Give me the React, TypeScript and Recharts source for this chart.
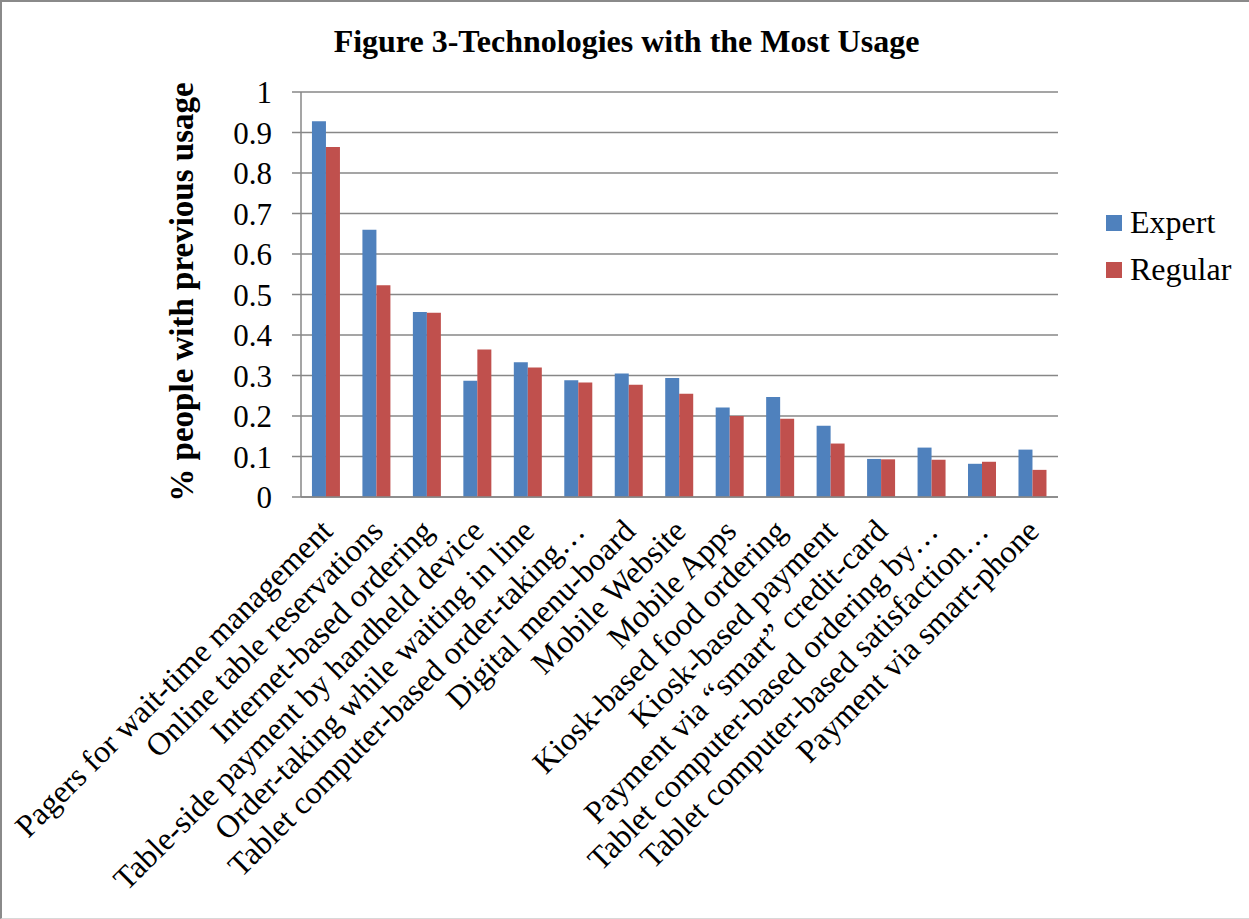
import React from 'react';
import { BarChart, Bar, XAxis, YAxis, CartesianGrid } from 'recharts';

const categories = [
  'Pagers for wait-time management',
  'Online table reservations',
  'Internet-based ordering',
  'Table-side payment by handheld device',
  'Order-taking while waiting in line',
  'Tablet computer-based order-taking…',
  'Digital menu-board',
  'Mobile Website',
  'Mobile Apps',
  'Kiosk-based food ordering',
  'Kiosk-based payment',
  'Payment via “smart” credit-card',
  'Tablet computer-based ordering by…',
  'Tablet computer-based satisfaction…',
  'Payment via smart-phone',
];

const expert = [0.928, 0.66, 0.457, 0.287, 0.333, 0.288, 0.305, 0.294, 0.221, 0.247, 0.176, 0.094, 0.122, 0.082, 0.117];
const regular = [0.864, 0.523, 0.455, 0.364, 0.32, 0.283, 0.277, 0.255, 0.2, 0.193, 0.132, 0.093, 0.092, 0.087, 0.067];

const yTicks = [0, 0.1, 0.2, 0.3, 0.4, 0.5, 0.6, 0.7, 0.8, 0.9, 1];

const data = categories.map((name, i) => ({ name, Expert: expert[i], Regular: regular[i] }));

const FONT = "'Liberation Serif', 'DejaVu Serif'";
const BLUE = '#4F81BD';
const RED = '#C0504D';
const GRID = '#878787';

const CategoryTick = (props: any) => {
  const { x, payload } = props;
  const px = x + 8;
  const py = 533;
  return (
    <text
      x={px}
      y={py}
      transform={`rotate(-45, ${px}, ${py})`}
      textAnchor="end"
      fontSize={32}
      fontFamily={FONT}
      fill="#000"
    >
      {payload.value}
    </text>
  );
};

const YTitle = () => (
  <text
    x={193}
    y={292}
    transform="rotate(-90, 193, 292)"
    textAnchor="middle"
    fontSize={33}
    fontWeight="bold"
    fontFamily={FONT}
    fill="#000"
  >
    % people with previous usage
  </text>
);

const legendItems = [
  { name: 'Expert', color: BLUE },
  { name: 'Regular', color: RED },
];

export default function App() {
  return (
    <div
      style={{
        position: 'absolute',
        left: 0,
        top: 0,
        width: 1249,
        height: 919,
        background: '#fff',
        boxSizing: 'border-box',
        borderTop: '2px solid #8a8a8a',
        borderLeft: '2px solid #8a8a8a',
        borderBottom: '1px solid #d8d8d8',
        fontFamily: FONT,
      }}
    >
      <div
        style={{
          position: 'absolute',
          left: 0,
          top: 21,
          width: 1249,
          textAlign: 'center',
          fontSize: 32,
          fontWeight: 'bold',
          color: '#000',
        }}
      >
        Figure 3-Technologies with the Most Usage
      </div>

      <div style={{ position: 'absolute', left: -2, top: -2 }}>
        <BarChart
          width={1249}
          height={919}
          data={data}
          margin={{ top: 92, right: 191, bottom: 0, left: 0 }}
          barCategoryGap="21.7%"
          barGap={0}
        >
          <CartesianGrid vertical={false} stroke={GRID} strokeWidth={1.5} />
          <XAxis
            dataKey="name"
            interval={0}
            height={422}
            axisLine={{ stroke: GRID, strokeWidth: 1.5 }}
            tickLine={false}
            tick={<CategoryTick />}
          />
          <YAxis
            width={301}
            domain={[0, 1]}
            ticks={yTicks}
            interval={0}
            axisLine={{ stroke: GRID, strokeWidth: 1.5 }}
            tickLine={{ stroke: GRID, strokeWidth: 1.5 }}
            tickSize={9}
            tickMargin={20}
            tick={{ fontSize: 31, fill: '#000', fontFamily: FONT }}
            label={<YTitle />}
          />
          <Bar dataKey="Expert" fill={BLUE} isAnimationActive={false} />
          <Bar dataKey="Regular" fill={RED} isAnimationActive={false} />
        </BarChart>
      </div>

      <div style={{ position: 'absolute', left: 1104, top: 197 }}>
        {legendItems.map((item) => (
          <div key={item.name} style={{ display: 'flex', alignItems: 'center', height: 47 }}>
            <span style={{ width: 16, height: 16, background: item.color, marginRight: 8 }} />
            <span style={{ fontSize: 32, color: '#000' }}>{item.name}</span>
          </div>
        ))}
      </div>
    </div>
  );
}
